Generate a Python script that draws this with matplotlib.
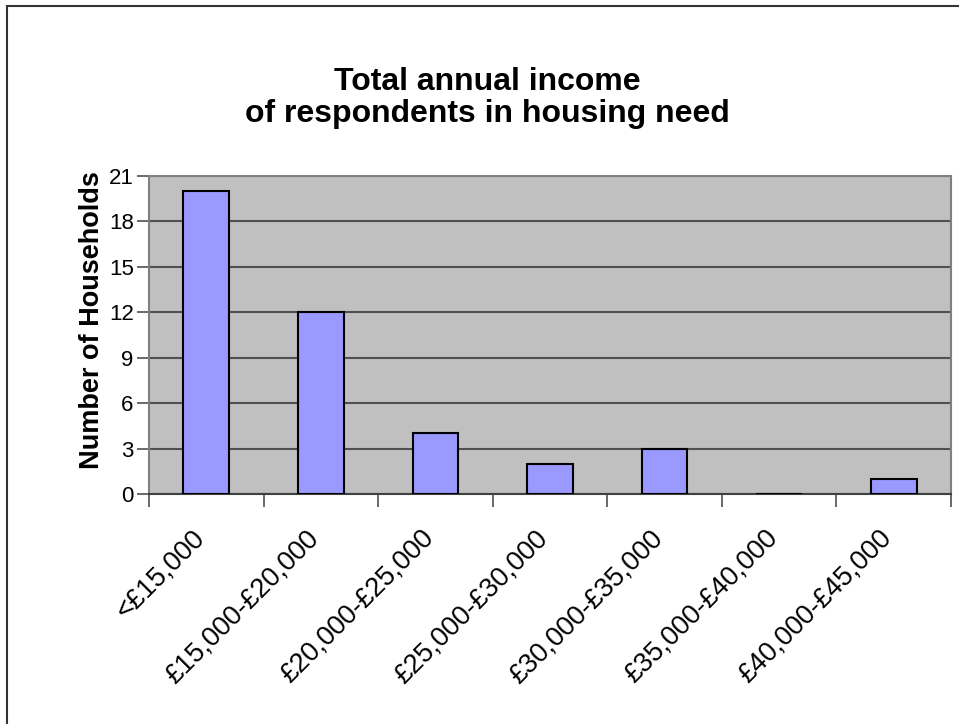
import matplotlib.pyplot as plt
from matplotlib.patches import Rectangle
from matplotlib.transforms import ScaledTranslation

plt.rcParams['font.family'] = ['Liberation Sans', 'DejaVu Sans']

# income bands and household counts
bands = ["<£15,000", "£15,000-£20,000", "£20,000-£25,000", "£25,000-£30,000",
         "£30,000-£35,000", "£35,000-£40,000", "£40,000-£45,000"]
households = [20, 12, 4, 2, 3, 0, 1]
y_ticks = [0, 3, 6, 9, 12, 15, 18, 21]

fig = plt.figure(figsize=(9.59, 7.24), dpi=100)
# chart border
fig.patches.append(Rectangle((7 / 959, -0.1), 1.2, 1.1 - 6 / 724,
                             transform=fig.transFigure, fill=False,
                             edgecolor='#333333', linewidth=1.5))

ax = fig.add_axes([149 / 959, 1 - 494 / 724, (951 - 149) / 959, (494 - 176) / 724])
ax.set_facecolor('#C0C0C0')

x = list(range(len(bands)))
ax.bar(x, households, width=0.4, color='#9999FF', edgecolor='black',
       linewidth=1.5, zorder=3)

ax.set_xlim(-0.5, len(bands) - 0.5)
ax.set_ylim(0, 21)
ax.set_yticks(y_ticks)
ax.yaxis.grid(True, color='#505050', linewidth=1.5, zorder=1)
ax.set_axisbelow(True)

# tick marks sit on category boundaries
ax.set_xticks([i - 0.5 for i in range(len(bands) + 1)])
ax.set_xticklabels([])
ax.tick_params(axis='x', length=9, width=1.2, color='#505050')
ax.tick_params(axis='y', length=9, width=1.2, color='#505050', labelsize=16, pad=2)

# slanted category labels, placed just below each category centre
label_trans = ax.get_xaxis_transform() + ScaledTranslation(-15 / 100, -31 / 100,
                                                           fig.dpi_scale_trans)
for xi, band in zip(x, bands):
    ax.text(xi, 0, band, transform=label_trans, rotation=45, rotation_mode='anchor',
            ha='right', va='top', fontsize=19.5)

for side in ['top', 'right', 'left']:
    ax.spines[side].set_color('#808080')
    ax.spines[side].set_linewidth(1.5)
ax.spines['bottom'].set_color('#404040')
ax.spines['bottom'].set_linewidth(1.5)

fig.text(92 / 959, 1 - 320 / 724, 'Number of Households', rotation=90,
         ha='center', va='center', fontsize=19.5, fontweight='bold')
fig.text(487 / 959, 1 - 98 / 724, 'Total annual income\nof respondents in housing need',
         ha='center', va='center', fontsize=23, fontweight='bold', linespacing=1.12)

fig.savefig('out.png', dpi=100)
